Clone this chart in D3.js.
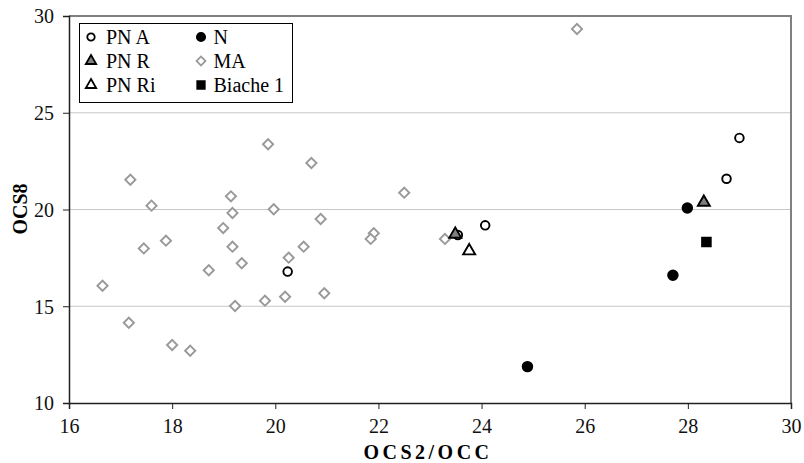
<!DOCTYPE html>
<html>
<head>
<meta charset="utf-8">
<script src="https://cdn.jsdelivr.net/npm/d3@7"></script>
<style>
  body { margin: 0; background: #fff; }
  svg text { font-family: "Liberation Serif", "Times New Roman", serif !important; }
</style>
</head>
<body>
<svg width="804" height="463"></svg>
<script>
// series: [OCS2/OCC, OCS8]
var pnA = [[20.24, 16.79], [23.54, 18.68], [24.07, 19.18], [28.75, 21.59], [29.0, 23.70]];
var pnR = [[23.49, 18.72], [28.31, 20.37]];
var pnRi = [[23.76, 17.86]];
var nSeries = [[24.89, 11.88], [27.71, 16.60], [27.99, 20.08]];
var biache = [[28.36, 18.32]];
var ma = [
  [16.65, 16.06], [17.16, 14.15], [17.19, 21.54], [17.60, 20.20], [17.45, 17.99],
  [17.88, 18.39], [18.0, 13.0], [18.35, 12.70], [18.71, 16.86], [18.99, 19.04],
  [19.14, 20.68], [19.17, 19.82], [19.17, 18.08], [19.35, 17.22], [19.22, 15.01],
  [19.80, 15.29], [19.97, 20.01], [20.19, 15.49], [20.26, 17.51], [20.55, 18.08],
  [20.70, 22.40], [20.88, 19.51], [20.95, 15.67], [19.86, 23.37], [22.50, 20.87],
  [21.91, 18.77], [21.85, 18.48], [23.29, 18.48], [25.85, 29.33]
];
var xTicks = [16, 18, 20, 22, 24, 26, 28, 30];
var yTicks = [10, 15, 20, 25, 30];
var legendRows = [
  ["PN A", "circleOpen"], ["N", "circleFilled"],
  ["PN R", "triGray"], ["MA", "diamond"],
  ["PN Ri", "triOpen"], ["Biache 1", "square"]
];

var svg = d3.select("svg"),
    margin = {top: 16, right: 13, bottom: 60, left: 69},
    width = 804 - margin.left - margin.right,
    height = 463 - margin.top - margin.bottom,
    g = svg.append("g").attr("transform", "translate(" + margin.left + "," + margin.top + ")");

var x = d3.scaleLinear().domain([16, 30]).range([0, width]);
var y = d3.scaleLinear().domain([10, 30]).range([height, 0]);

// gridlines
g.selectAll(".grid")
    .data(yTicks.slice(1, -1))
  .enter().append("line")
    .attr("x1", 0).attr("x2", width)
    .attr("y1", function(d) { return y(d); })
    .attr("y2", function(d) { return y(d); })
    .attr("stroke", "#c8c8c8")
    .attr("stroke-width", 1);

// plot border (top & right)
g.append("path")
    .attr("d", "M0," + y(30) + "H" + width + "V" + height)
    .attr("fill", "none")
    .attr("stroke", "#808080")
    .attr("stroke-width", 2);

var xAxis = g.append("g")
    .attr("transform", "translate(0," + height + ")")
    .call(d3.axisBottom(x).tickValues(xTicks).tickSize(6).tickPadding(10).tickFormat(d3.format("d")));
var yAxis = g.append("g")
    .call(d3.axisLeft(y).tickValues(yTicks).tickSize(6).tickPadding(9).tickFormat(d3.format("d")));

[xAxis, yAxis].forEach(function(a) {
  a.select(".domain").attr("stroke", "#202020").attr("stroke-width", 1.5);
  a.selectAll(".tick line").attr("stroke", "#202020");
  a.selectAll("text")
      .attr("font-size", 20)
      .attr("fill", "#111");
});
yAxis.selectAll("text").attr("dy", "0.34em");

// axis titles
svg.append("text")
    .attr("x", margin.left + width / 2 - 2)
    .attr("y", 459)
    .attr("text-anchor", "middle")
    .attr("font-weight", "bold")
    .attr("font-size", 20)
    .attr("letter-spacing", 3.5)
    .text("OCS2/OCC");

svg.append("text")
    .attr("transform", "translate(27,209) rotate(-90)")
    .attr("text-anchor", "middle")
    .attr("font-weight", "bold")
    .attr("font-size", 20)
    .text("OCS8");

// marker shapes
var symbols = {
  circleOpen:   {type: d3.symbolCircle, size: 58, fill: "#fff", stroke: "#000"},
  circleFilled: {type: d3.symbolCircle, size: 72, fill: "#000", stroke: "#000"},
  triGray:      {type: d3.symbolTriangle, size: 62, fill: "#808080", stroke: "#000"},
  triOpen:      {type: d3.symbolTriangle, size: 62, fill: "#fff", stroke: "#000"},
  diamond:      {type: d3.symbolSquare, size: 52, fill: "#fff", stroke: "#999", rotate: 45},
  square:       {type: d3.symbolSquare, size: 75, fill: "#000", stroke: "#000"}
};

function drawSeries(data, key) {
  var s = symbols[key];
  g.append("g").selectAll("path")
      .data(data)
    .enter().append("path")
      .attr("d", d3.symbol().type(s.type).size(s.size))
      .attr("transform", function(d) {
        return "translate(" + x(d[0]) + "," + y(d[1]) + ")" + (s.rotate ? " rotate(" + s.rotate + ")" : "");
      })
      .attr("fill", s.fill)
      .attr("stroke", s.stroke)
      .attr("stroke-width", 1.9);
}

drawSeries(ma, "diamond");
drawSeries(pnA, "circleOpen");
drawSeries(nSeries, "circleFilled");
drawSeries(pnRi, "triOpen");
drawSeries(pnR, "triGray");
drawSeries(biache, "square");

// legend
var legend = svg.append("g");
legend.append("rect")
    .attr("x", 79.5).attr("y", 23.5)
    .attr("width", 213).attr("height", 79)
    .attr("fill", "#fff")
    .attr("stroke", "#000")
    .attr("stroke-width", 1);

var item = legend.selectAll(".item")
    .data(legendRows)
  .enter().append("g")
    .attr("transform", function(d, i) {
      return "translate(" + (i % 2 ? 201 : 91) + "," + (37 + Math.floor(i / 2) * 24) + ")";
    });

item.append("path")
    .attr("d", function(d) { var s = symbols[d[1]]; return d3.symbol().type(s.type).size(s.size * 0.75)(); })
    .attr("transform", function(d) { return symbols[d[1]].rotate ? "rotate(45)" : null; })
    .attr("fill", function(d) { return symbols[d[1]].fill; })
    .attr("stroke", function(d) { return symbols[d[1]].stroke; })
    .attr("stroke-width", 1.8);

item.append("text")
    .attr("x", function(d, i) { return i % 2 ? 12.5 : 15; })
    .attr("y", 7)
    .attr("font-size", 20)
    .text(function(d) { return d[0]; });
</script>
</body>
</html>
